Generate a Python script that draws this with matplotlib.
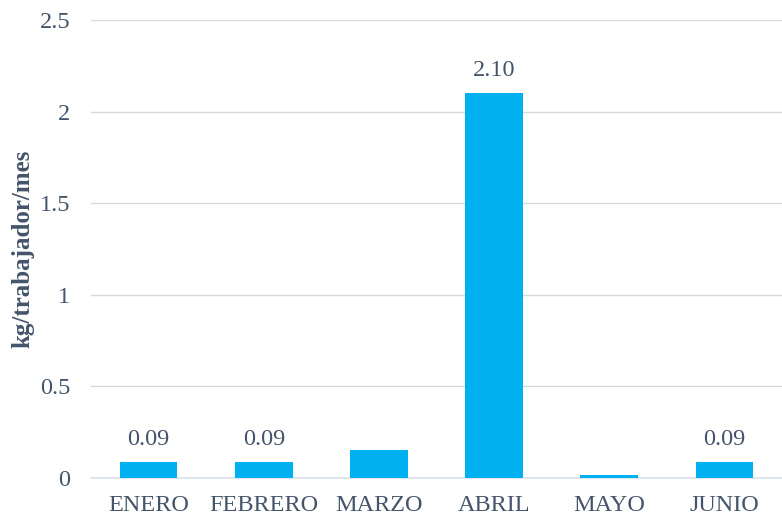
import matplotlib
matplotlib.use("Agg")
import matplotlib.pyplot as plt

categories = ["ENERO", "FEBRERO", "MARZO", "ABRIL", "MAYO", "JUNIO"]
values = [0.09, 0.09, 0.153, 2.10, 0.016, 0.09]
labels = ["0.09", "0.09", "", "2.10", "", "0.09"]
yticks = [0, 0.5, 1, 1.5, 2, 2.5]
ytick_labels = ["0", "0.5", "1", "1.5", "2", "2.5"]

text_color = "#44546A"
plt.rcParams['font.family'] = ['Liberation Serif', 'DejaVu Serif']

fig = plt.figure(figsize=(7.82, 5.19), dpi=100)
ax = fig.add_axes([91/782, 41/519, (782-91)/782, (478-20)/519])

x = range(len(categories))
bars = ax.bar(x, values, width=0.5, color="#00B0F0", zorder=3)
for b, lab in zip(bars, labels):
    if lab:
        ax.text(b.get_x() + b.get_width()/2, b.get_height() + 0.065, lab,
                ha="center", va="bottom", fontsize=17.5, color=text_color)

ax.set_xlim(-0.5, len(categories) - 0.5)
ax.set_ylim(0, 2.5)
ax.set_yticks(yticks)
ax.set_yticklabels(ytick_labels)
ax.set_xticks(list(x))
ax.set_xticklabels(categories)
ax.tick_params(axis="both", length=0, labelsize=17.5, colors=text_color)
ax.tick_params(axis="y", pad=15)
ax.tick_params(axis="x", pad=12)
ax.grid(axis="y", color="#D9D9D9", linewidth=1, zorder=0)
for s in ["top", "right", "left"]:
    ax.spines[s].set_visible(False)
ax.spines["bottom"].set_color("#D9E1EA")
ax.spines["bottom"].set_linewidth(1.2)
ax.set_ylabel("kg/trabajador/mes", fontsize=18, fontweight="bold", color=text_color)
ax.yaxis.set_label_coords(-0.082, 0.5)

fig.savefig("out.png", dpi=100)
